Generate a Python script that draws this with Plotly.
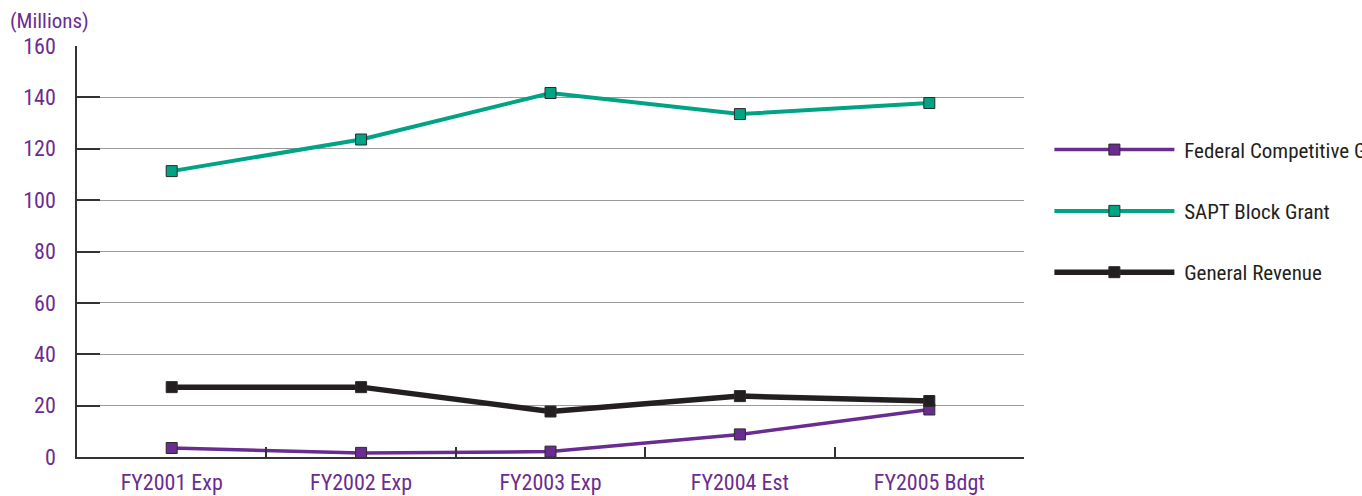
import plotly.graph_objects as go

# Fiscal-year categories and funding series (millions of dollars)
years = ["FY2001 Exp", "FY2002 Exp", "FY2003 Exp", "FY2004 Est", "FY2005 Bdgt"]
federal_competitive = [3.5, 1.6, 2.1, 8.8, 18.5]
sapt_block_grant = [111.3, 123.6, 141.7, 133.5, 137.8]
general_revenue = [27.2, 27.2, 17.7, 23.7, 21.8]

y_ticks = [0, 20, 40, 60, 80, 100, 120, 140, 160]

PURPLE = "#6b2c91"
GREEN = "#00a383"
BLACK = "#231f20"
FONT = "Roboto Condensed, Liberation Sans Narrow, sans-serif"

series = [
    ("Federal Competitive Grants", federal_competitive, PURPLE, 3.5, "federal"),
    ("SAPT Block Grant", sapt_block_grant, GREEN, 4, "sapt"),
    ("General Revenue", general_revenue, BLACK, 5.5, "general"),
]

fig = go.Figure()
for name, values, color, width, group in series:
    fig.add_trace(go.Scatter(
        x=years, y=values, name="\u00a0" + name, mode="lines+markers",
        legendgroup=group,
        line=dict(color=color, width=width),
        marker=dict(symbol="square", size=11, color=color,
                    line=dict(color="#2b2b2b", width=1)),
    ))

fig.update_layout(
    width=1362, height=496,
    margin=dict(l=77, r=338, t=46, b=39, autoexpand=False),
    paper_bgcolor="white", plot_bgcolor="white",
    font=dict(family=FONT, size=20, color=PURPLE),
    showlegend=True,
    legend=dict(
        x=1.0268, y=0.797, xanchor="left", yanchor="top",
        font=dict(family=FONT, size=21, color=BLACK),
        itemwidth=120, tracegroupgap=31,
        bgcolor="rgba(0,0,0,0)",
    ),
    xaxis=dict(
        type="category", range=[-0.5, 4.5],
        showgrid=False, showline=True, linecolor="#333333", linewidth=1.5,
        ticks="inside", ticklen=10, tickwidth=1.5, tickcolor="#333333",
        tickson="boundaries",
        tickfont=dict(family=FONT, size=22, color=PURPLE),
        ticklabelstandoff=5,
        fixedrange=True,
    ),
    yaxis=dict(
        range=[0, 160], tickvals=y_ticks,
        showgrid=True, gridcolor="#9a9a9a", gridwidth=1.2,
        showline=True, linecolor="#333333", linewidth=1.5,
        ticks="inside", ticklen=23, tickwidth=1.5, tickcolor="#333333",
        tickfont=dict(family=FONT, size=22, color=PURPLE),
        ticklabelstandoff=15,
        zeroline=False,
    ),
    annotations=[dict(
        text="(Millions)", xref="paper", yref="paper",
        x=-0.073, y=1.0, xanchor="left", yanchor="bottom", yshift=11,
        showarrow=False, font=dict(family=FONT, size=21, color=PURPLE),
    )],
)

fig.write_html("out.html")
